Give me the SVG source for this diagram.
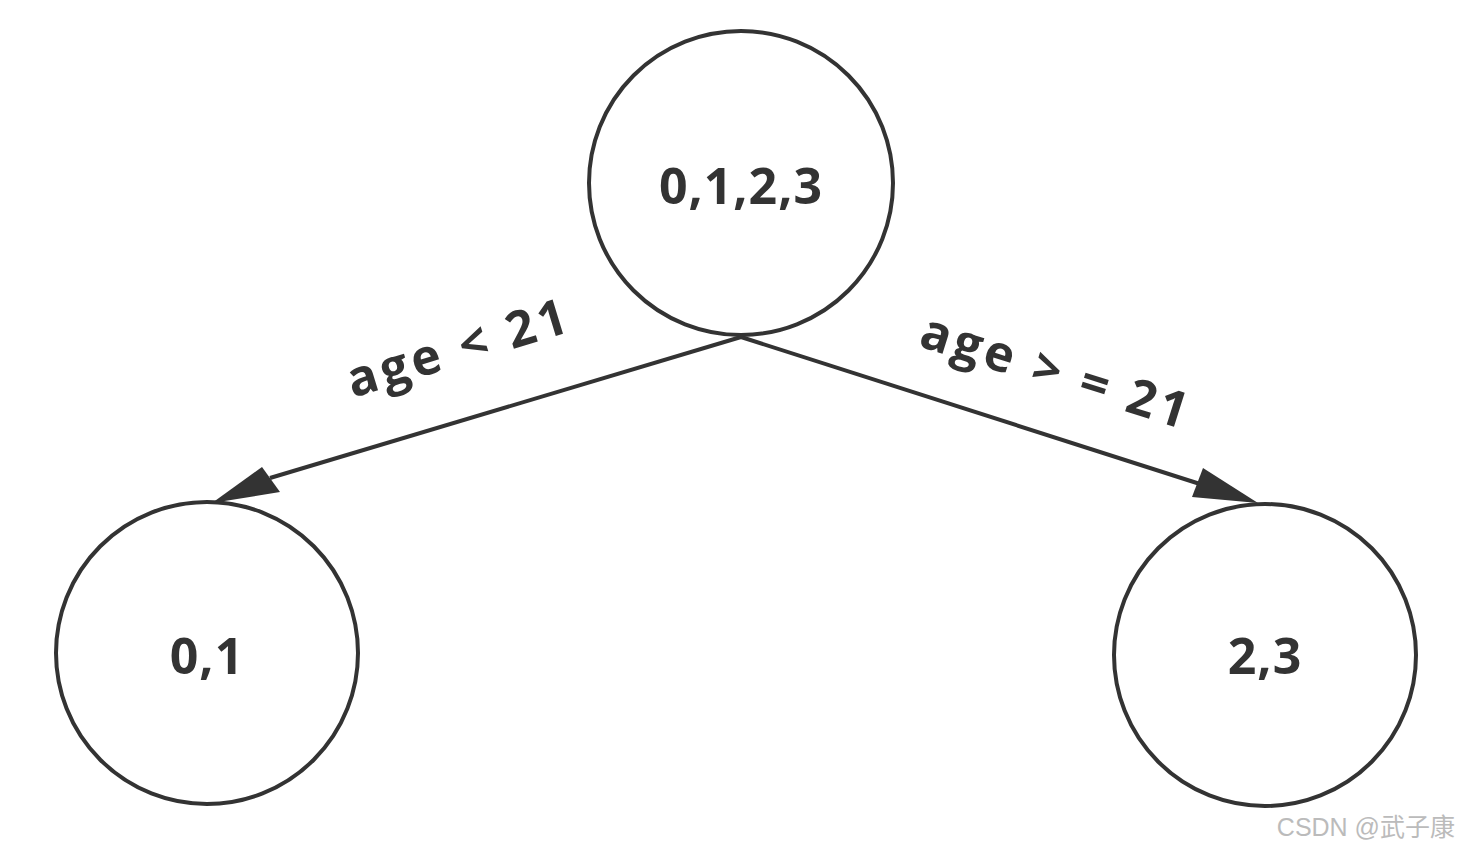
<svg xmlns="http://www.w3.org/2000/svg" width="1460" height="852" viewBox="0 0 1460 852">
<style>
.n{fill:#fff;stroke:#333;stroke-width:4}
.t{font-family:"Open Sans","Liberation Sans",sans-serif;font-weight:bold;font-size:50px;fill:#333;text-anchor:middle;dominant-baseline:central;letter-spacing:1px}
.l{font-family:"Open Sans","Liberation Sans",sans-serif;font-weight:bold;font-size:50px;fill:#333;text-anchor:middle;dominant-baseline:central;letter-spacing:4px}
.e{stroke:#333;stroke-width:4;fill:none}
</style>
<rect width="1460" height="852" fill="#fff"/>
<g id="edges">
<line class="e" x1="741" y1="337" x2="270" y2="478"/>
<path d="M212,503L262,467L280,492Z" fill="#333"/>
<line class="e" x1="741" y1="337" x2="1200" y2="484"/>
<path d="M1258,503L1192,497L1203,468Z" fill="#333"/>
<text class="l" transform="translate(458,346) rotate(-17)">age &lt; 21</text>
<text class="l" transform="translate(1057,370) rotate(17.5)">age &gt; = 21</text>
</g>
<g id="root"><circle class="n" cx="741" cy="183" r="152"/><text class="t" x="741" y="185">0,1,2,3</text></g>
<g id="left"><circle class="n" cx="207" cy="653" r="151"/><text class="t" x="207" y="655">0,1</text></g>
<g id="right"><circle class="n" cx="1265" cy="655" r="151"/><text class="t" x="1265" y="655">2,3</text></g>
<text x="1455" y="836" text-anchor="end" font-family="Liberation Sans,Noto Sans CJK SC,sans-serif" font-size="25" fill="#bbb">CSDN @武子康</text>
</svg>
